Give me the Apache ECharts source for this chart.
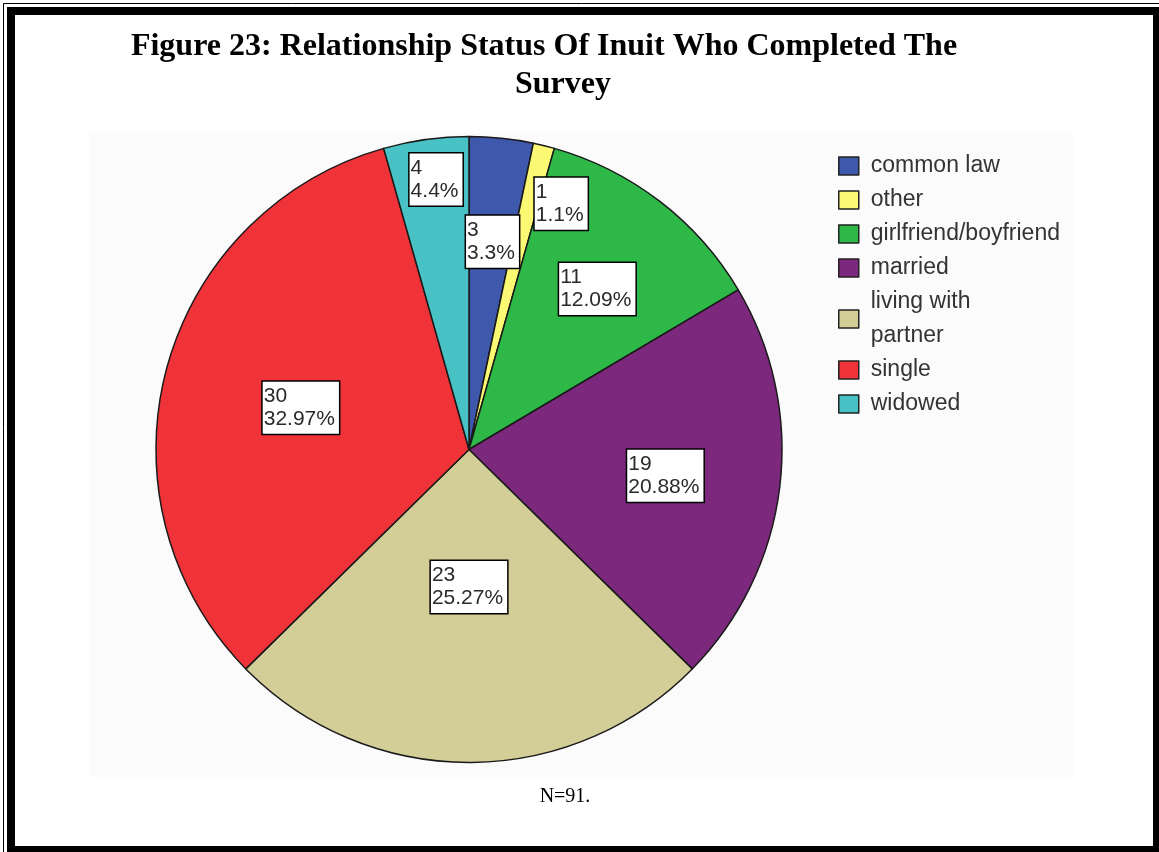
<!DOCTYPE html>
<html>
<head>
<meta charset="utf-8">
<script src="https://cdn.jsdelivr.net/npm/echarts@6/dist/echarts.min.js"></script>
<style>
html,body{margin:0;padding:0;background:#fff;}
#chart{width:1159px;height:852px;}
</style>
</head>
<body>
<div id="chart"></div>
<script>
// ---- data ----
var categories = ['common law', 'other', 'girlfriend/boyfriend', 'married', 'living with partner', 'single', 'widowed'];
var counts = [3, 1, 11, 19, 23, 30, 4];
var sliceColors = ['#3E58AC', '#FBF873', '#2EB848', '#7C287D', '#D3CE97', '#EF3338', '#48C2C5'];
var titleLine1 = 'Figure 23: Relationship Status Of Inuit Who Completed The';
var titleLine2 = 'Survey';
var noteText = 'N=91.';
// label offsets (style) relative to the default inside-label position
var labelShift = [[7, -49], [54, -91], [31, -34], [38, 7], [0, -22], [-14, -1], [-11, -112]];

var total = counts.reduce(function (a, b) { return a + b; }, 0);
var pieData = categories.map(function (c, i) {
  return { name: c, value: counts[i], itemStyle: { color: sliceColors[i] } };
});

var chart = echarts.init(document.getElementById('chart'), null, { renderer: 'canvas' });
chart.setOption({
  backgroundColor: '#ffffff',
  animation: false,
  title: [
    { text: titleLine1, left: 544, top: 31, textAlign: 'center', padding: 0,
      textStyle: { fontFamily: 'Liberation Serif', fontWeight: 'bold', fontSize: 32, lineHeight: 32, color: '#000' } },
    { text: titleLine2, left: 563, top: 69, textAlign: 'center', padding: 0,
      textStyle: { fontFamily: 'Liberation Serif', fontWeight: 'bold', fontSize: 32, lineHeight: 32, color: '#000' } },
    { text: noteText, left: 565, top: 787, textAlign: 'center', padding: 0,
      textStyle: { fontFamily: 'Liberation Serif', fontWeight: 'normal', fontSize: 20, lineHeight: 20, color: '#000' } }
  ],
  graphic: [
    { type: 'rect', z: -10, silent: true, shape: { x: 89, y: 133, width: 985, height: 644 }, style: { fill: '#fbfbfb' } },
    { type: 'rect', z: 100, silent: true, shape: { x: 3.5, y: 3.5, width: 1200, height: 900 }, style: { fill: null, stroke: '#000', lineWidth: 1 } },
    { type: 'rect', z: 100, silent: true, shape: { x: 11, y: 11, width: 1146, height: 839 }, style: { fill: null, stroke: '#000', lineWidth: 8 } }
  ],
  legend: {
    orient: 'vertical',
    left: 838,
    top: 149,
    padding: 0,
    itemWidth: 20,
    itemHeight: 18,
    itemGap: 0,
    icon: 'rect',
    itemStyle: { borderColor: '#222', borderWidth: 1.5 },
    formatter: function (name) { return name === 'living with partner' ? 'living with\npartner' : name; },
    textStyle: { fontFamily: 'Liberation Sans', fontSize: 23, lineHeight: 34, color: '#333', padding: [0, 0, 0, 7] },
    data: categories
  },
  series: [{
    type: 'pie',
    center: [469, 449.5],
    radius: [0, 313],
    startAngle: 90,
    clockwise: true,
    avoidLabelOverlap: false,
    itemStyle: { borderColor: '#1a1a1a', borderWidth: 1.5 },
    emphasis: { disabled: true },
    label: {
      show: true,
      position: 'inside',
      formatter: function (p) {
        var pct = parseFloat((p.value / total * 100).toFixed(2));
        return '{t|' + p.value + '}\n{t|' + pct + '%}';
      },
      rich: {
        t: { align: 'left', fontFamily: 'Liberation Sans', fontSize: 21, lineHeight: 23, color: '#2a2a2a' }
      },
      fontFamily: 'Liberation Sans',
      fontSize: 21,
      lineHeight: 23,
      color: '#2a2a2a',
      backgroundColor: '#ffffff',
      borderColor: '#000',
      borderWidth: 1.5,
      padding: [3, 4, 3, 1]
    },
    labelLine: { show: false },
    labelLayout: function (p) {
      var s = labelShift[p.dataIndex];
      return { dx: s[0], dy: s[1] };
    },
    data: pieData
  }]
});
</script>
</body>
</html>
